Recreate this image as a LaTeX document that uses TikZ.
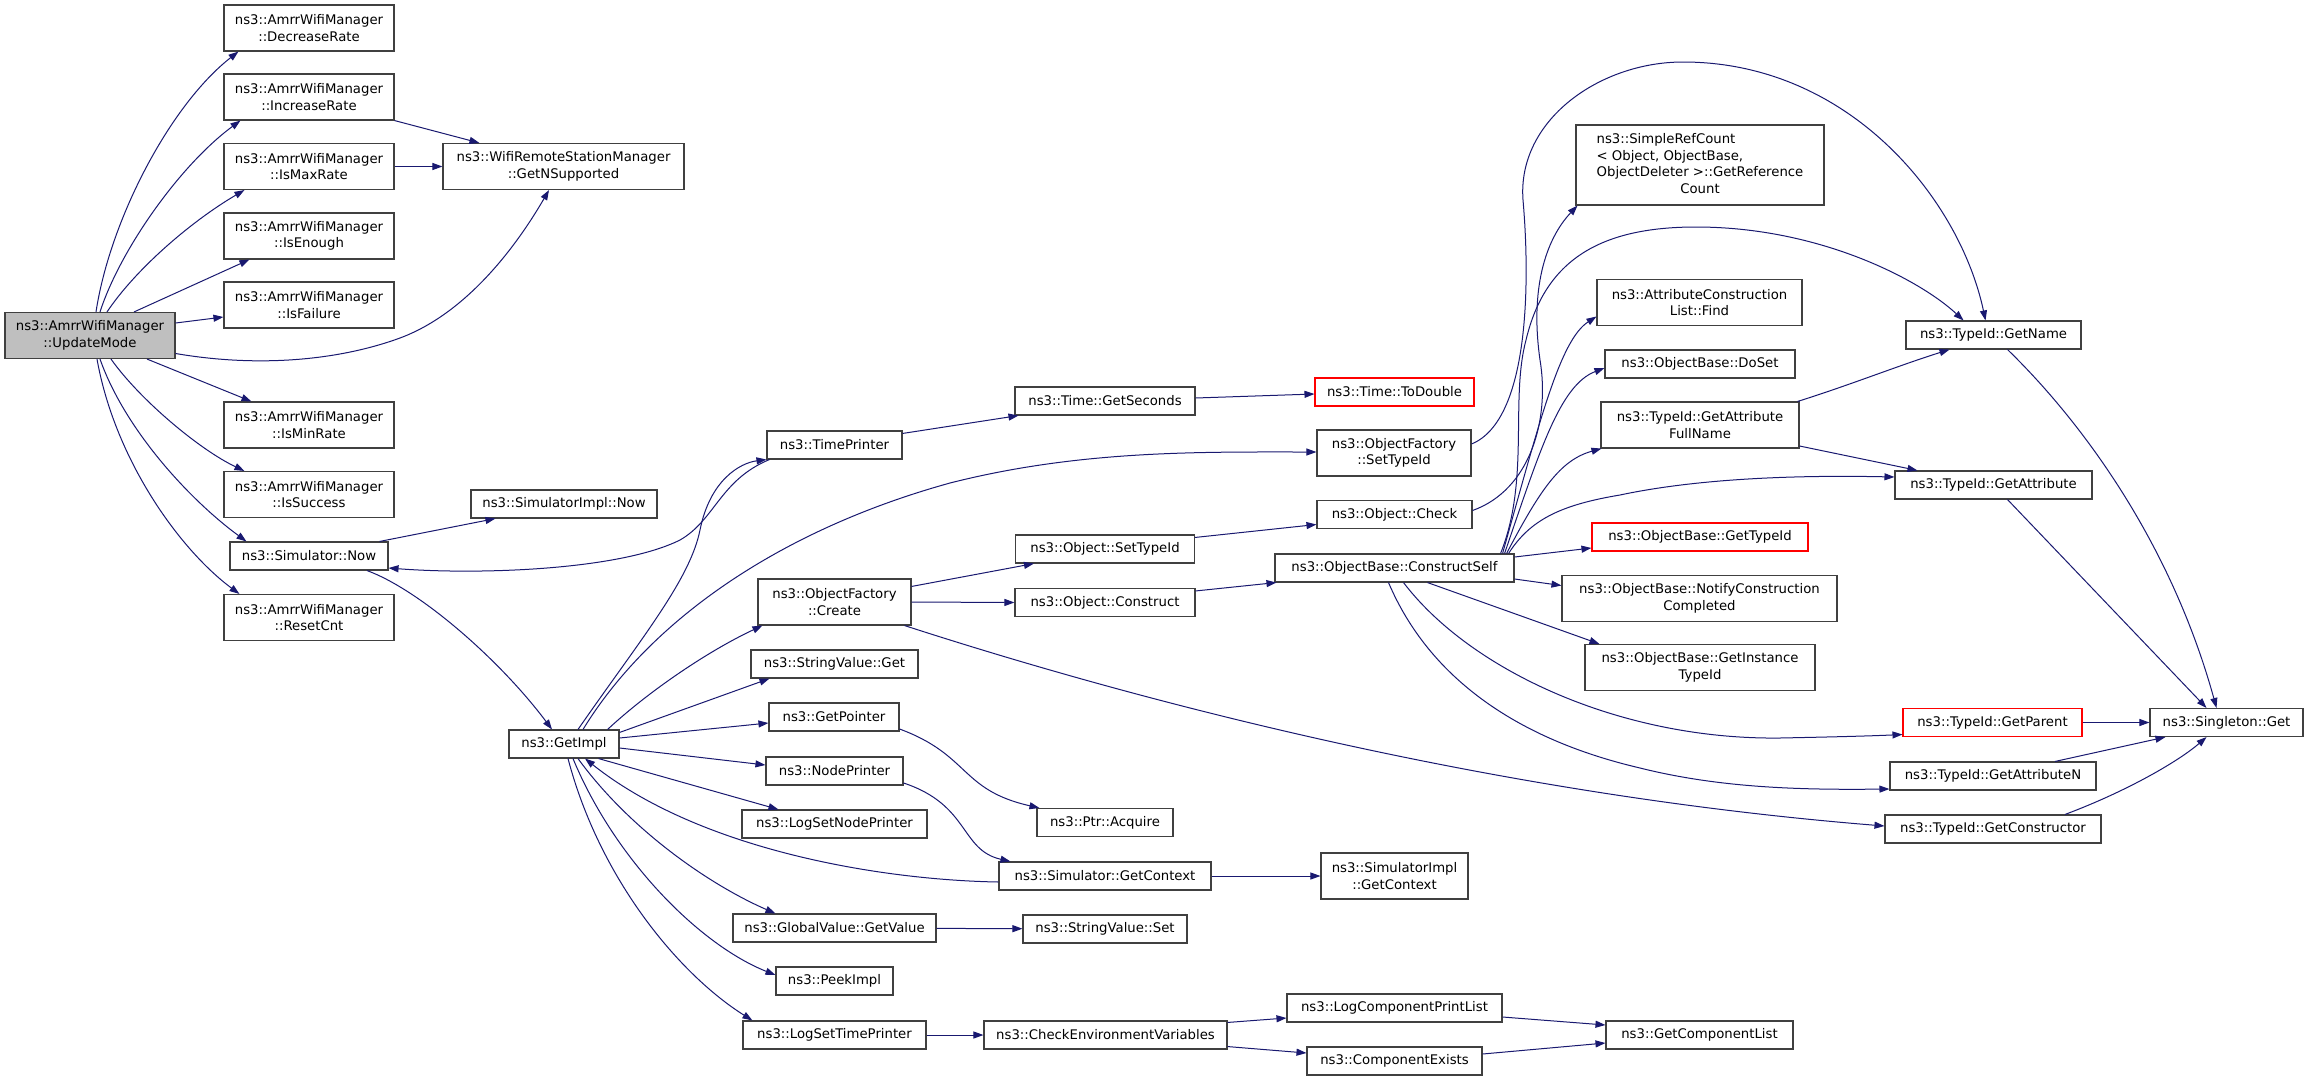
\documentclass[tikz,border=0pt]{standalone}
\usepackage{fontspec}
\setmainfont{DejaVu Sans}
\usetikzlibrary{arrows.meta,calc}
\definecolor{edgeblue}{HTML}{191970}
\definecolor{boxline}{HTML}{404040}
\definecolor{umfill}{HTML}{BFBFBF}
\begin{document}
\begin{tikzpicture}[x=1bp,y=-1bp,
  box/.style={draw=boxline, line width=1.1bp, fill=white, inner sep=0pt, align=center,
    font=\fontsize{13.3}{16.7}\selectfont, minimum height=28bp},
  box2/.style={box, minimum height=46bp},
  redbox/.style={box, draw=red},
  call/.style={draw=edgeblue, line width=1bp, -{Triangle[length=10bp,width=7bp]}},
]
\fill[white] (0,0) rectangle (2309,1081);
\useasboundingbox (0,0) rectangle (2309,1081);

% column 1
\node[box2, fill=umfill, minimum width=170bp] (um) at (90,335.5) {ns3::AmrrWifiManager\\::UpdateMode};
% column 2
\node[box2, minimum width=170bp] (dec) at (309,28) {ns3::AmrrWifiManager\\::DecreaseRate};
\node[box2, minimum width=170bp] (inc) at (309,97) {ns3::AmrrWifiManager\\::IncreaseRate};
\node[box2, minimum width=170bp] (max) at (309,166.5) {ns3::AmrrWifiManager\\::IsMaxRate};
\node[box2, minimum width=170bp] (enough) at (309,236) {ns3::AmrrWifiManager\\::IsEnough};
\node[box2, minimum width=170bp] (fail) at (309,305) {ns3::AmrrWifiManager\\::IsFailure};
\node[box2, minimum width=170bp] (minr) at (309,425) {ns3::AmrrWifiManager\\::IsMinRate};
\node[box2, minimum width=170bp] (succ) at (309,494.5) {ns3::AmrrWifiManager\\::IsSuccess};
\node[box, minimum width=158bp] (snow) at (309,556) {ns3::Simulator::Now};
\node[box2, minimum width=170bp] (reset) at (309,617.5) {ns3::AmrrWifiManager\\::ResetCnt};
% column 3
\node[box2, minimum width=241bp] (gns) at (563.5,166.5) {ns3::WifiRemoteStationManager\\::GetNSupported};
\node[box, minimum width=186bp] (sinow) at (564,504) {ns3::SimulatorImpl::Now};
\node[box, minimum width=110bp] (gimpl) at (564,744) {ns3::GetImpl};
% column 4
\node[box, minimum width=135bp] (tp) at (834.5,445) {ns3::TimePrinter};
\node[box2, minimum width=153bp] (ofc) at (834.5,602) {ns3::ObjectFactory\\::Create};
\node[box, minimum width=167bp] (svget) at (834.5,664) {ns3::StringValue::Get};
\node[box, minimum width=130bp] (gptr) at (834,717) {ns3::GetPointer};
\node[box, minimum width=137bp] (np) at (834.5,771) {ns3::NodePrinter};
\node[box, minimum width=185bp] (lsnp) at (834.5,824) {ns3::LogSetNodePrinter};
\node[box, minimum width=203bp] (gvgv) at (834.5,928) {ns3::GlobalValue::GetValue};
\node[box, minimum width=117bp] (peek) at (834.5,981) {ns3::PeekImpl};
\node[box, minimum width=183bp] (lstp) at (834.5,1035) {ns3::LogSetTimePrinter};
% column 5
\node[box, minimum width=180bp] (gsec) at (1105,401) {ns3::Time::GetSeconds};
\node[box, minimum width=179bp] (osti) at (1105,549) {ns3::Object::SetTypeId};
\node[box, minimum width=180bp] (ocon) at (1105,602.5) {ns3::Object::Construct};
\node[box, minimum width=136bp] (acq) at (1105,822.5) {ns3::Ptr::Acquire};
\node[box, minimum width=212bp] (sgc) at (1105,876) {ns3::Simulator::GetContext};
\node[box, minimum width=164bp] (svset) at (1105,929) {ns3::StringValue::Set};
\node[box, minimum width=243bp] (cev) at (1105.5,1035) {ns3::CheckEnvironmentVariables};
% column 6
\node[redbox, minimum width=159bp] (todbl) at (1394.5,392) {ns3::Time::ToDouble};
\node[box2, minimum width=154bp] (ofst) at (1394,453) {ns3::ObjectFactory\\::SetTypeId};
\node[box, minimum width=155bp] (ochk) at (1394.5,514.5) {ns3::Object::Check};
\node[box, minimum width=239bp] (cself) at (1394.5,568) {ns3::ObjectBase::ConstructSelf};
\node[box2, minimum width=147bp] (sigc) at (1394.5,876) {ns3::SimulatorImpl\\::GetContext};
\node[box, minimum width=215bp] (lcpl) at (1394.5,1008) {ns3::LogComponentPrintList};
\node[box, minimum width=175bp] (cex) at (1394.5,1061) {ns3::ComponentExists};
% column 7
\node[box, minimum width=248bp, minimum height=80bp] (src) at (1700,165)
  {\begin{tabular}{@{}l@{}}ns3::SimpleRefCount\\< Object, ObjectBase,\\\multicolumn{1}{@{}c@{}}{ObjectDeleter >::GetReference}\\\multicolumn{1}{@{}c@{}}{Count}\end{tabular}};
\node[box2, minimum width=205bp] (find) at (1699.5,302.5) {ns3::AttributeConstruction\\List::Find};
\node[box, minimum width=190bp] (doset) at (1700,364) {ns3::ObjectBase::DoSet};
\node[box2, minimum width=198bp] (gafn) at (1700,425) {ns3::TypeId::GetAttribute\\FullName};
\node[redbox, minimum width=216bp] (gtid) at (1700,537) {ns3::ObjectBase::GetTypeId};
\node[box2, minimum width=275bp] (ncc) at (1699.5,598.5) {ns3::ObjectBase::NotifyConstruction\\Completed};
\node[box2, minimum width=230bp] (gitid) at (1700,667.5) {ns3::ObjectBase::GetInstance\\TypeId};
\node[box, minimum width=187bp] (gcl) at (1699.5,1035) {ns3::GetComponentList};
% column 8
\node[box, minimum width=175bp] (gname) at (1993.5,335) {ns3::TypeId::GetName};
\node[box, minimum width=197bp] (gattr) at (1993.5,485) {ns3::TypeId::GetAttribute};
\node[redbox, minimum width=179bp] (gpar) at (1992.5,722.5) {ns3::TypeId::GetParent};
\node[box, minimum width=206bp] (gattrn) at (1993,776) {ns3::TypeId::GetAttributeN};
\node[box, minimum width=216bp] (gctor) at (1993,829) {ns3::TypeId::GetConstructor};
% column 9
\node[box, minimum width=153bp] (sget) at (2226.5,722.5) {ns3::Singleton::Get};

% ---- edges from UpdateMode
\draw[call] ($(um.north)+(6,0)$) .. controls (110,220) and (170,105) .. ($(dec.south west)+(15,0)$);
\draw[call] ($(um.north)+(10,0)$) .. controls (120,250) and (180,165) .. ($(inc.south west)+(17,0)$);
\draw[call] ($(um.north)+(17,0)$) .. controls (135,270) and (190,222) .. ($(max.south west)+(21,0)$);
\draw[call] ($(um.north)+(44,0)$) -- ($(enough.south west)+(26,0)$);
\draw[call] ($(um.east)+(0,-12.5)$) -- ($(fail.west)+(0,12)$);
\draw[call] ($(um.east)+(0,18)$) .. controls (260,368) and (340,360) .. (400,338)
   .. controls (470,312) and (520,240) .. ($(gns.south)+(-14.5,0)$);
\draw[call] ($(um.south)+(57,0)$) -- ($(minr.north west)+(28,0)$);
\draw[call] ($(um.south)+(21,0)$) .. controls (140,400) and (200,450) .. ($(succ.north west)+(21,0)$);
\draw[call] ($(um.south)+(10,0)$) .. controls (125,430) and (190,500) .. ($(snow.north west)+(17,0)$);
\draw[call] ($(um.south)+(7,0)$) .. controls (115,460) and (180,550) .. ($(reset.north west)+(16,0)$);
\draw[call] (inc.south east) -- ($(gns.north west)+(37,0)$);
\draw[call] (max) -- (gns);

% ---- Simulator::Now / GetImpl
\draw[call] ($(snow.north east)+(-9,0)$) -- ($(sinow.south west)+(25,0)$);
\draw[call] ($(tp.south west)+(3,0)$) .. controls (720,480) and (715,520) .. (680,540)
   .. controls (620,570) and (480,575) .. ($(snow.east)+(0,12)$);
\draw[call] ($(snow.south)+(58,0)$) .. controls (420,590) and (500,660) .. ($(gimpl.north)+(-12,0)$);
\draw[call] ($(gimpl.north)+(14,0)$) .. controls (640,640) and (690,580) .. (700,530)
   .. controls (710,480) and (740,463) .. (tp.south west);
\draw[call] ($(gimpl.north)+(19,0)$) .. controls (650,620) and (780,530) .. (950,483)
   .. controls (1080,450) and (1200,452) .. ($(ofst.west)+(0,-1)$);
\draw[call] ($(gimpl.north east)+(-12,0)$) .. controls (650,690) and (710,650) .. ($(ofc.south west)+(5,0)$);
\draw[call] ($(gimpl.north east)+(0,3)$) -- ($(svget.south west)+(19,0)$);
\draw[call] ($(gimpl.east)+(0,-6)$) -- ($(gptr.west)+(0,6)$);
\draw[call] ($(gimpl.east)+(0,4)$) -- ($(np.west)+(0,-6)$);
\draw[call] ($(gimpl.south east)+(-21,0)$) -- ($(lsnp.north west)+(37,0)$);
\draw[call] ($(sgc.west)+(0,6)$) .. controls (880,880) and (700,850) .. ($(gimpl.south)+(21,0)$);
\draw[call] ($(gimpl.south)+(14,0)$) .. controls (630,830) and (710,885) .. ($(gvgv.north west)+(43,0)$);
\draw[call] ($(gimpl.south)+(9,0)$) .. controls (615,860) and (700,945) .. ($(peek.west)+(0,-6)$);
\draw[call] ($(gimpl.south)+(4,0)$) .. controls (600,880) and (680,975) .. ($(lstp.north west)+(10,0)$);

% ---- column 4 -> 5
\draw[call] ($(tp.north east)+(0,3)$) -- ($(gsec.south west)+(4,0)$);
\draw[call] ($(gsec.east)+(0,-3)$) -- ($(todbl.west)+(0,2)$);
\draw[call] ($(ofc.north east)+(0,8)$) -- ($(osti.south west)+(19,0)$);
\draw[call] (ofc.east) -- (ocon.west);
\draw[call] ($(ofc.south east)+(-7,0)$) .. controls (1150,705) and (1500,795) .. ($(gctor.west)+(0,-3)$);
\draw[call] ($(gptr.east)+(0,12)$) .. controls (970,755) and (960,790) .. ($(acq.north west)+(3,0)$);
\draw[call] ($(np.east)+(0,12)$) .. controls (970,805) and (960,850) .. ($(sgc.north west)+(12,0)$);
\draw[call] (sgc) -- (sigc);
\draw[call] (gvgv) -- (svset);
\draw[call] (lstp) -- (cev);
\draw[call] ($(cev.north east)+(0,2)$) -- ($(lcpl.west)+(0,10)$);
\draw[call] ($(cev.south east)+(0,-3)$) -- ($(cex.west)+(0,-8)$);
\draw[call] ($(lcpl.east)+(0,9)$) -- ($(gcl.west)+(0,-10)$);
\draw[call] ($(cex.east)+(0,-7)$) -- ($(gcl.west)+(0,8)$);

% ---- column 5 -> 6
\draw[call] ($(osti.north east)+(0,3)$) -- ($(ochk.west)+(0,10)$);
\draw[call] ($(ocon.north east)+(0,3)$) -- ($(cself.south west)+(2,0)$);

% ---- column 6 -> 7/8
\draw[call] ($(ochk.east)+(0,-4)$) .. controls (1530,490) and (1550,420) .. (1540,360)
   .. controls (1530,290) and (1545,240) .. ($(src.south west)+(2,0)$);
\draw[call] ($(ofst.east)+(0,-9)$) .. controls (1530,420) and (1530,280) .. (1523,200)
   .. controls (1517,120) and (1600,62) .. (1683,62)
   .. controls (1850,62) and (1960,200) .. ($(gname.north)+(-8,0)$);
\draw[call] ($(cself.north east)+(-14,0)$) .. controls (1530,480) and (1510,400) .. (1526,340)
   .. controls (1545,260) and (1600,227) .. (1696,227)
   .. controls (1820,227) and (1920,280) .. ($(gname.north)+(-30,0)$);
\draw[call] ($(cself.north east)+(-12,0)$) .. controls (1540,420) and (1560,340) .. ($(find.west)+(0,14)$);
\draw[call] ($(cself.north east)+(-10,0)$) .. controls (1540,450) and (1560,385) .. ($(doset.west)+(0,4)$);
\draw[call] ($(cself.north east)+(-8,0)$) .. controls (1540,490) and (1560,460) .. ($(gafn.south west)+(1,0)$);
\draw[call] ($(cself.north east)+(-6,0)$) .. controls (1530,520) and (1560,505) .. (1620,495)
   .. controls (1700,478) and (1800,475) .. ($(gattr.west)+(0,-8)$);
\draw[call] ($(cself.east)+(0,-11)$) -- ($(gtid.west)+(0,11)$);
\draw[call] ($(cself.east)+(0,11)$) -- ($(ncc.west)+(0,-13)$);
\draw[call] ($(cself.south)+(33,0)$) -- ($(gitid.north west)+(15,0)$);
\draw[call] ($(cself.south)+(9,0)$) .. controls (1470,670) and (1620,740) .. (1780,738)
   .. controls (1830,737) and (1870,736) .. ($(gpar.west)+(0,12)$);
\draw[call] ($(cself.south)+(-6,0)$) .. controls (1430,680) and (1520,740) .. (1640,768)
   .. controls (1720,788) and (1800,790) .. ($(gattrn.west)+(0,13)$);

% ---- column 7 -> 8 -> 9
\draw[call] ($(gafn.north east)+(-2,0)$) .. controls (1850,385) and (1900,365) .. ($(gname.south)+(-44,0)$);
\draw[call] ($(gafn.east)+(0,21)$) -- ($(gattr.north west)+(23,0)$);
\draw[call] ($(gname.south)+(14,0)$) .. controls (2080,420) and (2170,540) .. ($(sget.north)+(-10,0)$);
\draw[call] ($(gattr.south)+(14,0)$) -- ($(sget.north)+(-20,0)$);
\draw[call] (gpar) -- (sget);
\draw[call] ($(gattrn.north)+(62,0)$) -- ($(sget.south west)+(16,0)$);
\draw[call] ($(gctor.north)+(72,0)$) .. controls (2130,790) and (2180,760) .. ($(sget.south)+(-20,0)$);
\end{tikzpicture}
\end{document}
